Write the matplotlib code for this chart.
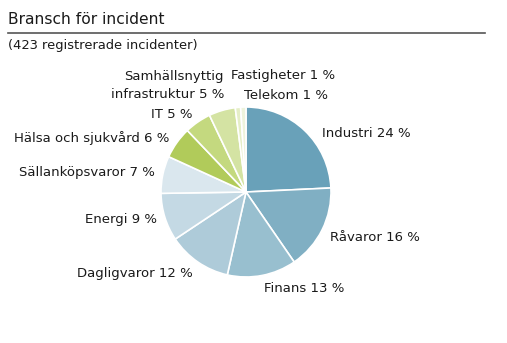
import numpy as np
import matplotlib.pyplot as plt

# Bransch for incident, andel i procent (medurs fran kl 12)
branscher = ['Industri', 'Råvaror', 'Finans', 'Dagligvaror', 'Energi',
             'Sällanköpsvaror', 'Hälsa och sjukvård', 'IT',
             'Samhällsnyttig\ninfrastruktur', 'Fastigheter', 'Telekom']
andel = [24, 16, 13, 12, 9, 7, 6, 5, 5, 1, 1]
farger = ['#69a1b9', '#80afc3', '#98bfcf', '#aecbd9', '#c4d9e4', '#dae7ee',
          '#b1cb5a', '#c4d97f', '#d4e3a3', '#e5eec6', '#eef3dc']

plt.rcParams['font.family'] = 'DejaVu Sans'

fig = plt.figure(figsize=(5.07, 3.43), dpi=100)

# rubrik och linje
fig.text(8/507, 1 - 19/343, 'Bransch för incident', fontsize=11.2,
         ha='left', va='center', color='#1a1a1a')
fig.add_artist(plt.Line2D([8/507, 485/507], [1 - 32.5/343, 1 - 32.5/343],
                          color='#555555', linewidth=1.2))
fig.text(8/507, 1 - 45/343, '(423 registrerade incidenter)', fontsize=9.4,
         ha='left', va='center', color='#1a1a1a')

# pajen, centrum ca (246,192) px, radie 85 px
cx, cy, r = 246, 192, 85
ax = fig.add_axes([(cx - r)/507, (343 - cy - r)/343, 2*r/507, 2*r/343])
ax.set_aspect('equal')

etiketter = ['%s %d %%' % (b, a) for b, a in zip(branscher, andel)]
wedges, texts = ax.pie(andel, labels=etiketter, colors=farger, startangle=90,
                       counterclock=False, labeldistance=1.1,
                       wedgeprops=dict(edgecolor='white', linewidth=1.2),
                       textprops=dict(fontsize=9.5, color='#1a1a1a'))
for t in texts:
    t.set_clip_on(False)

# flytta nagra etiketter sa de ligger som i originalet
texts[0].set_position((0.9, 0.69))
texts[0].set_ha('left')
for i in (1, 2, 3):
    x, y = texts[i].get_position()
    texts[i].set_position((x, y - 0.05))
texts[8].set_position((-0.26, 1.25))
texts[8].set_ha('right')
texts[8].set_linespacing(1.55)
texts[9].set_position((0.44, 1.375))
texts[9].set_ha('center')
texts[10].set_position((0.47, 1.13))
texts[10].set_ha('center')

ax.set_xlim(-1, 1)
ax.set_ylim(-1, 1)

fig.savefig('out.png', dpi=100)
